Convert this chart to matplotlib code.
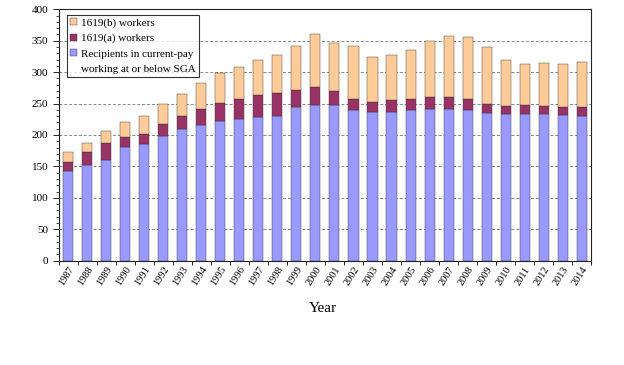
import numpy as np
import matplotlib.pyplot as plt
from matplotlib.ticker import MultipleLocator, FixedLocator
from matplotlib.patches import Rectangle

years = [str(y) for y in range(1987, 2015)]
# cumulative tops (thousands)
recipients = [142, 153, 160, 181, 186, 199, 210, 216, 223, 225, 228, 230, 245, 248,
              247, 240, 236, 237, 240, 242, 242, 239, 235, 234, 234, 234, 232, 231]
top_a = [157, 173, 187, 197, 202, 217, 230, 242, 251, 257, 263, 267, 271, 277,
         270, 258, 252, 255, 258, 260, 260, 257, 249, 246, 247, 246, 244, 245]
total = [173, 188, 206, 220, 230, 249, 266, 282, 299, 308, 320, 327, 341, 360,
         346, 341, 324, 328, 336, 349, 358, 356, 340, 319, 313, 314, 313, 316]

recipients = np.array(recipients)
w_a = np.array(top_a) - recipients
w_b = np.array(total) - np.array(top_a)

plt.rcParams['font.family'] = ['Liberation Serif', 'DejaVu Serif']

fig = plt.figure(figsize=(6.24, 3.65), dpi=100)
ax = fig.add_axes([0.094, 0.2858, 0.8535, 0.6887])

x = np.arange(len(years))
bw = 0.53
ec = '#333333'
b1 = ax.bar(x, recipients, bw, color='#9999FF', edgecolor=ec, linewidth=0.3, zorder=3)
b2 = ax.bar(x, w_a, bw, bottom=recipients, color='#993366', edgecolor=ec, linewidth=0.3,
            zorder=3)
b3 = ax.bar(x, w_b, bw, bottom=top_a, color='#FFCC99', edgecolor=ec, linewidth=0.3,
            zorder=3)

ax.set_xlim(-0.5, len(years) - 0.5)
ax.set_ylim(0, 400)
ax.yaxis.set_major_locator(MultipleLocator(50))
ax.yaxis.set_minor_locator(MultipleLocator(10))
ax.grid(axis='y', which='major', color='#888888', linestyle=(0, (3, 2)), linewidth=0.7, zorder=0)

ax.set_xticks(x)
ax.set_xticklabels(years, rotation=58, ha='right', rotation_mode='anchor', fontsize=7.5)
ax.tick_params(axis='x', which='major', length=0, pad=3)
ax.xaxis.set_minor_locator(FixedLocator(np.arange(-0.5, len(years), 1.0)))
ax.tick_params(axis='x', which='minor', length=3, direction='out', width=0.6)
ax.tick_params(axis='y', which='major', labelsize=8, length=4, width=0.6)
ax.tick_params(axis='y', which='minor', length=2, width=0.5)

for s in ax.spines.values():
    s.set_linewidth(0.8)
    s.set_color('#222222')

fig.text(0.518, 0.156, 'Year', ha='center', va='center', fontsize=11)

# legend: second line of the recipients label as an entry without a swatch
h_b = Rectangle((0, 0), 1, 1, facecolor='#FFCC99', edgecolor=ec, linewidth=0.3)
h_a = Rectangle((0, 0), 1, 1, facecolor='#993366', edgecolor=ec, linewidth=0.3)
h_r = Rectangle((0, 0), 1, 1, facecolor='#9999FF', edgecolor=ec, linewidth=0.3)
h_blank = Rectangle((0, 0), 1, 1, facecolor='none', edgecolor='none')
leg = ax.legend([h_b, h_a, h_r, h_blank],
                ['1619(b) workers', '1619(a) workers', 'Recipients in current-pay',
                 'working at or below SGA'],
                loc='upper left', bbox_to_anchor=(0.0155, 0.978),
                fontsize=8, frameon=True, fancybox=False, edgecolor='black',
                handlelength=0.6, handleheight=0.6, handletextpad=0.4,
                borderpad=0.3, labelspacing=0.52, borderaxespad=0)
leg.get_frame().set_linewidth(0.8)

fig.savefig('out.png', dpi=100)
